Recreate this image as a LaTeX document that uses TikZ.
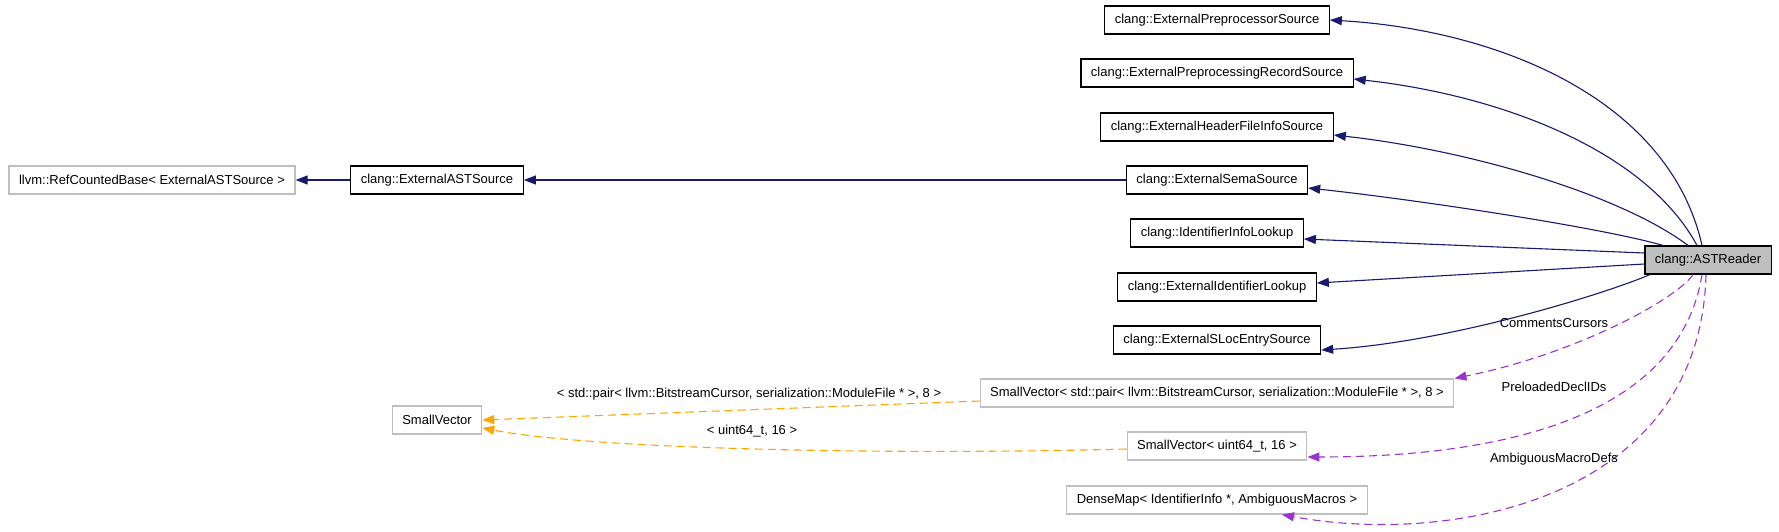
\documentclass[tikz,border=0pt]{standalone}
\usepackage{fontspec}
\setmainfont{Liberation Sans}
\usetikzlibrary{arrows.meta}
\definecolor{navy}{HTML}{191970}
\definecolor{orchid}{HTML}{9A32CD}
\definecolor{amber}{HTML}{FFA500}
\definecolor{boxgray}{HTML}{BFBFBF}

\begin{document}
\begin{tikzpicture}[x=1pt,y=-1pt,
  cls/.style={draw=black,line width=1.2pt,minimum height=28pt,inner xsep=10pt,font=\fontsize{13}{15}\selectfont},
  ext/.style={cls,draw=boxgray},
  lbl/.style={font=\fontsize{13}{15}\selectfont},
  inh/.style={-{Triangle[length=12pt,width=9pt]},draw=navy,line width=1.1pt},
  memb/.style={-{Triangle[length=12pt,width=9pt]},draw=orchid,line width=1.1pt,dash pattern=on 8pt off 5pt},
  tmpl/.style={-{Triangle[length=12pt,width=9pt]},draw=amber,line width=1.1pt,dash pattern=on 8pt off 5pt}]
\useasboundingbox (0,0) rectangle (1779,531);
\node[ext] (refbase) at (152,180) {llvm::RefCountedBase< ExternalASTSource >};
\node[cls] (astsrc) at (437,180) {clang::ExternalASTSource};
\node[ext] (smallvec) at (437,420) {SmallVector};
\node[cls] (ppsrc) at (1217,20) {clang::ExternalPreprocessorSource};
\node[cls] (recsrc) at (1217,73) {clang::ExternalPreprocessingRecordSource};
\node[cls] (hdrsrc) at (1217,127) {clang::ExternalHeaderFileInfoSource};
\node[cls] (semasrc) at (1217,180) {clang::ExternalSemaSource};
\node[cls] (infolook) at (1217,233) {clang::IdentifierInfoLookup};
\node[cls] (identlook) at (1217,287) {clang::ExternalIdentifierLookup};
\node[cls] (slocsrc) at (1217,340) {clang::ExternalSLocEntrySource};
\node[ext] (svpair) at (1217,393) {SmallVector< std::pair< llvm::BitstreamCursor, serialization::ModuleFile * >, 8 >};
\node[ext] (svuint) at (1217,446) {SmallVector< uint64\_t, 16 >};
\node[ext] (densemap) at (1217,500) {DenseMap< IdentifierInfo *, AmbiguousMacros >};
\node[cls,fill=boxgray] (reader) at (1708,260) {clang::ASTReader};

\draw[inh] (astsrc) -- (refbase);
\draw[inh] (semasrc) -- (astsrc);
\draw[inh] ([xshift=-6pt]reader.north) .. controls +(-33,-146) and +(169,10) .. (ppsrc.east);
\draw[inh] ([xshift=-11pt]reader.north) .. controls +(-52,-96) and +(145,16) .. ([yshift=-6pt]recsrc.east);
\draw[inh] ([xshift=-20pt]reader.north) .. controls +(-68,-51) and +(135,15) .. ([yshift=-8pt]hdrsrc.east);
\draw[inh] ([xshift=-45pt]reader.north) .. controls +(-63,-18) and +(111,12) .. ([yshift=-8pt]semasrc.east);
\draw[inh] ([yshift=7pt]reader.west) -- ([yshift=-6pt]infolook.east);
\draw[inh] ([yshift=-4pt]reader.west) -- ([yshift=4pt]identlook.east);
\draw[inh] ([xshift=-58pt]reader.south) .. controls +(-50,21) and +(127,-8) .. ([yshift=-10pt]slocsrc.east);

\draw[memb] ([xshift=-15pt]reader.south) .. controls +(-18,26) and +(119,-24) .. (svpair.north east);
\draw[memb] ([xshift=-6pt]reader.south) .. controls +(-22,136) and +(210,0) .. ([yshift=-11pt]svuint.east);
\draw[memb] ([xshift=-2pt]reader.south) .. controls +(-6,226) and +(168,31) .. ([xshift=65pt]densemap.south);
\node[lbl] (ccur) at (1554,323) {CommentsCursors};
\node[lbl] (pdecl) at (1554,387) {PreloadedDeclIDs};
\node[lbl] (amdefs) at (1554,459) {AmbiguousMacroDefs};

\draw[tmpl] ([yshift=-8pt]svpair.west) -- (smallvec.east);
\draw[tmpl] ([yshift=-3pt]svuint.west) .. controls +(-224,6) and +(116,22) .. ([yshift=-8pt]smallvec.east);
\node[lbl] (pairarg) at (749,394) {< std::pair< llvm::BitstreamCursor, serialization::ModuleFile * >, 8 >};
\node[lbl] (uintarg) at (752,431) {< uint64\_t, 16 >};
\end{tikzpicture}
\end{document}
